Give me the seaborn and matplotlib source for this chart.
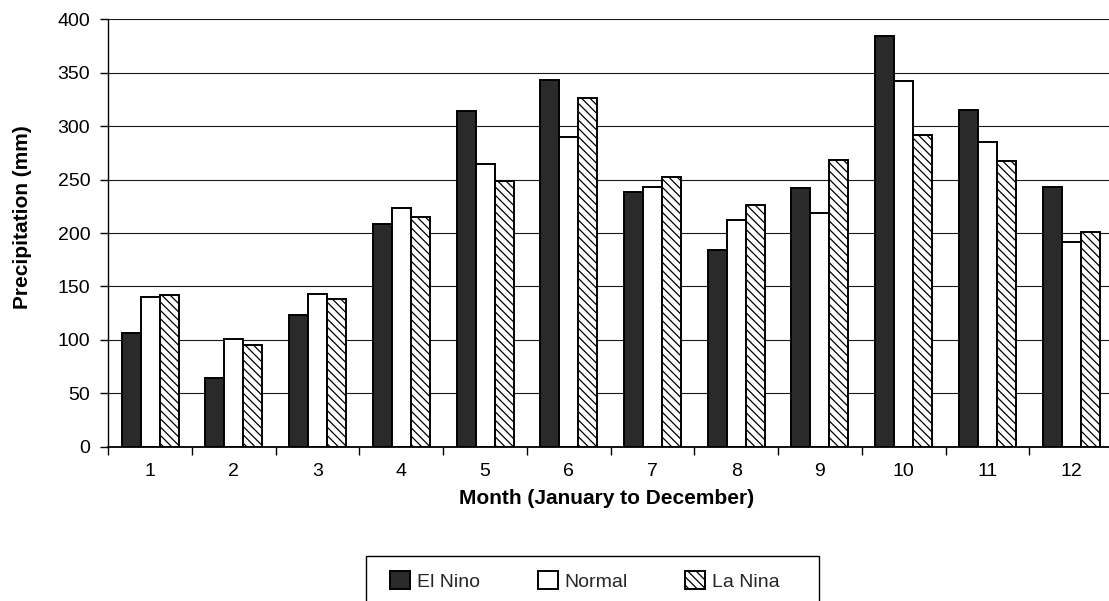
import numpy as np
import pandas as pd
import matplotlib
matplotlib.use("Agg")
import matplotlib.pyplot as plt
from matplotlib.patches import Rectangle
import seaborn as sns

# Monthly precipitation (mm) under each ENSO phase
months = ["1", "2", "3", "4", "5", "6", "7", "8", "9", "10", "11", "12"]
el_nino = [106, 64, 123, 208, 314, 343, 238, 184, 242, 384, 315, 243]
normal = [140, 101, 143, 223, 265, 290, 243, 212, 219, 342, 285, 192]
la_nina = [142, 95, 138, 215, 249, 326, 252, 226, 268, 292, 267, 201]
series_names = ["El Nino", "Normal", "La Nina"]
y_ticks = [0, 50, 100, 150, 200, 250, 300, 350, 400]

df = pd.DataFrame({
    "Month": months * 3,
    "Precipitation": el_nino + normal + la_nina,
    "Condition": np.repeat(series_names, len(months)),
})

sns.set_style("ticks")
plt.rcParams["font.family"] = ["Liberation Sans", "DejaVu Sans"]
plt.rcParams["hatch.linewidth"] = 0.9

W, H = 1109, 601
fig = plt.figure(figsize=(W / 100, H / 100), dpi=100)
ax = fig.add_axes([108.3 / W, (H - 446.7) / H, 1004.7 / W, 427.4 / H])

palette = {"El Nino": "#2a2a2a", "Normal": "#ffffff", "La Nina": "#ffffff"}
sns.barplot(data=df, x="Month", y="Precipitation", hue="Condition",
            order=months, hue_order=series_names, palette=palette,
            saturation=1, width=0.68, edgecolor="black", linewidth=1.4,
            legend=False, ax=ax)

for bar in ax.containers[2]:
    bar.set_hatch("\\\\\\\\")

# Axes limits, grid, spines
ax.set_ylim(0, 400)
ax.set_xlim(-0.5, 11.5)
ax.set_yticks(y_ticks)
ax.set_axisbelow(True)
ax.yaxis.grid(True, color="#1a1a1a", linewidth=0.8)
ax.xaxis.grid(False)
for side in ("top", "right"):
    ax.spines[side].set_visible(False)
ax.spines["left"].set_linewidth(1.0)
ax.spines["bottom"].set_linewidth(1.3)
ax.spines["left"].set_color("black")
ax.spines["bottom"].set_color("black")

# Ticks: marks between months, labels centred under each month
ax.set_xticks(np.arange(-0.5, len(months), 1.0))
ax.set_xticklabels([])
ax.set_xticks(np.arange(len(months)), minor=True)
ax.set_xticklabels(months, minor=True)
ax.tick_params(axis="x", which="major", length=6, width=1, color="black", direction="out")
ax.tick_params(axis="x", which="minor", length=0, pad=12, labelsize=14, labelcolor="black")
ax.tick_params(axis="y", length=6, width=1, color="black", direction="out",
               pad=7, labelsize=14, labelcolor="black")

ax.set_xlabel("Month (January to December)", fontsize=15, fontweight="bold", color="black")
ax.set_ylabel("Precipitation (mm)", fontsize=15, fontweight="bold", color="black")
ax.xaxis.set_label_coords(0.496, -0.100)
ax.yaxis.set_label_coords(-0.076, 0.537)

# Legend below the plot with a plain rectangular frame
leg = fig.legend(handles=list(ax.containers), labels=series_names,
                 loc="center left", bbox_to_anchor=(390 / W, (H - 581) / H),
                 ncol=3, frameon=False, fontsize=14, borderpad=0, borderaxespad=0,
                 handlelength=1.03, handleheight=1.03, handletextpad=0.36,
                 columnspacing=2.96)
fig.add_artist(Rectangle((366 / W, -0.05), (819 - 366) / W, 0.05 + (H - 556) / H,
                         transform=fig.transFigure, fill=False,
                         edgecolor="black", linewidth=1.0))

fig.savefig("out.png", dpi=100)
